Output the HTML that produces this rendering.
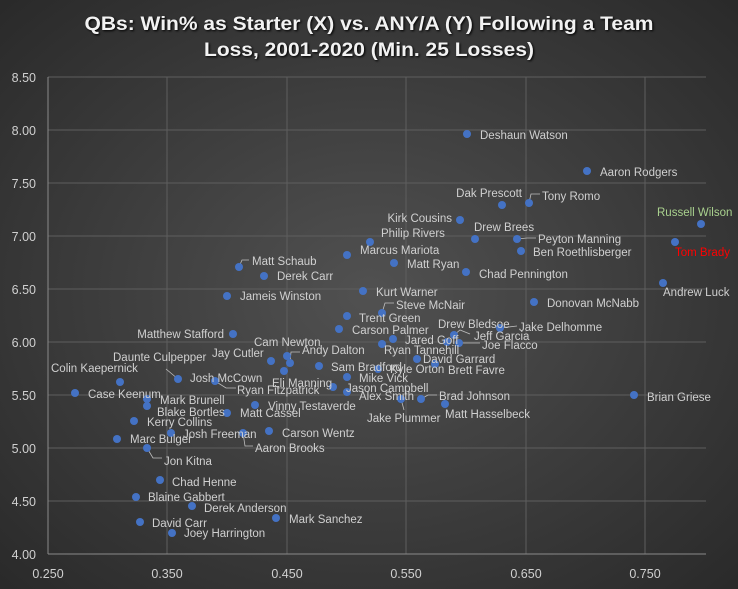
<!DOCTYPE html>
<html><head><meta charset="utf-8"><style>
html,body{margin:0;padding:0;background:#333;}
svg{display:block;}
text{font-family:"Liberation Sans",sans-serif;}
.l{font-size:11.5px;fill:#d0d0d0;}
.ax{font-size:12.5px;fill:#d0d0d0;}
.g{stroke:#5e5e5e;stroke-width:1;}
.ld{stroke:#bfbfbf;stroke-width:0.8;fill:none;}
circle{fill:#4472c4;}
</style></head><body>
<svg width="738" height="589" viewBox="0 0 738 589" xmlns="http://www.w3.org/2000/svg">
<defs>
<radialGradient id="bg" cx="50%" cy="50%" r="70%">
<stop offset="0" stop-color="#515151"/><stop offset="1" stop-color="#2a2a2a"/>
</radialGradient>
</defs>
<rect width="738" height="589" fill="url(#bg)"/>
<g font-weight="bold" font-size="19" fill="#f2f2f2" text-anchor="middle" style="text-shadow:1px 1px 2px #000">
<text x="369" y="30" textLength="569" lengthAdjust="spacingAndGlyphs">QBs: Win% as Starter (X) vs. ANY/A (Y) Following a Team</text>
<text x="369" y="56" textLength="330" lengthAdjust="spacingAndGlyphs">Loss, 2001-2020 (Min. 25 Losses)</text>
</g>
<!-- grid -->
<g class="g">
<line x1="48" y1="77" x2="706" y2="77"/><line x1="48" y1="130" x2="706" y2="130"/>
<line x1="48" y1="183" x2="706" y2="183"/><line x1="48" y1="236" x2="706" y2="236"/>
<line x1="48" y1="289" x2="706" y2="289"/><line x1="48" y1="342" x2="706" y2="342"/>
<line x1="48" y1="395" x2="706" y2="395"/><line x1="48" y1="448" x2="706" y2="448"/>
<line x1="48" y1="501" x2="706" y2="501"/>
<line x1="167" y1="77" x2="167" y2="554"/><line x1="287" y1="77" x2="287" y2="554"/>
<line x1="406" y1="77" x2="406" y2="554"/><line x1="526" y1="77" x2="526" y2="554"/>
<line x1="645" y1="77" x2="645" y2="554"/>
</g>
<line x1="48" y1="77" x2="48" y2="554" stroke="#8a8a8a"/>
<line x1="48" y1="554" x2="706" y2="554" stroke="#8a8a8a"/>
<g class="ax" text-anchor="end">
<text x="36" y="82">8.50</text><text x="36" y="135">8.00</text><text x="36" y="188">7.50</text>
<text x="36" y="241">7.00</text><text x="36" y="294">6.50</text><text x="36" y="347">6.00</text>
<text x="36" y="400">5.50</text><text x="36" y="453">5.00</text><text x="36" y="506">4.50</text>
<text x="36" y="559">4.00</text>
</g>
<g class="ax" text-anchor="middle">
<text x="48" y="578">0.250</text><text x="167" y="578">0.350</text><text x="287" y="578">0.450</text>
<text x="406" y="578">0.550</text><text x="526" y="578">0.650</text><text x="645" y="578">0.750</text>
</g>
<!-- leader lines -->
<g class="ld">
<polyline points="239,267 242,260 249,260"/>
<polyline points="178,379 166,369"/>
<polyline points="215,381 226,388 236,388"/>
<polyline points="290,363 291,352 300,352"/>
<polyline points="147,448 153,458 162,458"/>
<polyline points="243,433 245,446 253,446"/>
<polyline points="382,313 385,303 394,303"/>
<polyline points="529,203 531,194 540,194"/>
<polyline points="517,239 527,238 536,238"/>
<polyline points="454,335 460,330 470,334"/>
<polyline points="459,343 480,343"/>
<polyline points="500,328 517,326"/>
<polyline points="421,399 428,395 437,395"/>
<polyline points="401,399 404,410"/>
</g>
<!-- dots -->
<g>
<circle cx="467" cy="134" r="4"/><circle cx="587" cy="171" r="4"/><circle cx="502" cy="205" r="4"/>
<circle cx="529" cy="203" r="4"/><circle cx="460" cy="220" r="4"/><circle cx="701" cy="224" r="4"/>
<circle cx="370" cy="242" r="4"/><circle cx="347" cy="255" r="4"/><circle cx="475" cy="239" r="4"/>
<circle cx="517" cy="239" r="4"/><circle cx="521" cy="251" r="4"/><circle cx="675" cy="242" r="4"/>
<circle cx="394" cy="263" r="4"/><circle cx="466" cy="272" r="4"/><circle cx="363" cy="291" r="4"/>
<circle cx="663" cy="283" r="4"/><circle cx="534" cy="302" r="4"/><circle cx="634" cy="395" r="4"/>
<circle cx="239" cy="267" r="4"/><circle cx="264" cy="276" r="4"/><circle cx="227" cy="296" r="4"/>
<circle cx="233" cy="334" r="4"/><circle cx="287" cy="356" r="4"/><circle cx="290" cy="363" r="4"/>
<circle cx="271" cy="361" r="4"/><circle cx="284" cy="371" r="4"/><circle cx="178" cy="379" r="4"/>
<circle cx="215" cy="381" r="4"/><circle cx="120" cy="382" r="4"/><circle cx="75" cy="393" r="4"/>
<circle cx="319" cy="366" r="4"/><circle cx="147" cy="399" r="4"/><circle cx="147" cy="406" r="4"/>
<circle cx="255" cy="405" r="4"/><circle cx="227" cy="413" r="4"/><circle cx="134" cy="421" r="4"/>
<circle cx="171" cy="433" r="4"/><circle cx="243" cy="433" r="4"/><circle cx="117" cy="439" r="4"/>
<circle cx="147" cy="448" r="4"/><circle cx="160" cy="480" r="4"/><circle cx="136" cy="497" r="4"/>
<circle cx="192" cy="506" r="4"/><circle cx="140" cy="522" r="4"/><circle cx="172" cy="533" r="4"/>
<circle cx="269" cy="431" r="4"/><circle cx="276" cy="518" r="4"/><circle cx="445" cy="404" r="4"/>
<circle cx="382" cy="313" r="4"/><circle cx="347" cy="316" r="4"/><circle cx="339" cy="329" r="4"/>
<circle cx="393" cy="339" r="4"/><circle cx="382" cy="344" r="4"/><circle cx="417" cy="359" r="4"/>
<circle cx="378" cy="369" r="4"/><circle cx="435" cy="364" r="4"/><circle cx="347" cy="377" r="4"/>
<circle cx="333" cy="387" r="4"/><circle cx="347" cy="392" r="4"/><circle cx="401" cy="399" r="4"/>
<circle cx="421" cy="399" r="4"/><circle cx="454" cy="335" r="4"/><circle cx="447" cy="342" r="4"/>
<circle cx="459" cy="343" r="4"/><circle cx="500" cy="328" r="4"/>
</g>
<!-- labels -->
<g class="l">
<text x="480" y="139">Deshaun Watson</text>
<text x="600" y="176">Aaron Rodgers</text>
<text x="522" y="197" text-anchor="end">Dak Prescott</text>
<text x="542" y="200">Tony Romo</text>
<text x="452" y="222" text-anchor="end">Kirk Cousins</text>
<text x="657" y="216" style="fill:#a9d18e">Russell Wilson</text>
<text x="381" y="237">Philip Rivers</text>
<text x="360" y="254">Marcus Mariota</text>
<text x="474" y="231">Drew Brees</text>
<text x="538" y="243">Peyton Manning</text>
<text x="533" y="256">Ben Roethlisberger</text>
<text x="675" y="256" style="fill:#ff0000">Tom Brady</text>
<text x="407" y="268">Matt Ryan</text>
<text x="479" y="278">Chad Pennington</text>
<text x="376" y="296">Kurt Warner</text>
<text x="663" y="296">Andrew Luck</text>
<text x="547" y="307">Donovan McNabb</text>
<text x="647" y="401">Brian Griese</text>
<text x="252" y="265">Matt Schaub</text>
<text x="277" y="280">Derek Carr</text>
<text x="240" y="300">Jameis Winston</text>
<text x="224" y="338" text-anchor="end">Matthew Stafford</text>
<text x="254" y="346">Cam Newton</text>
<text x="302" y="354">Andy Dalton</text>
<text x="212" y="357">Jay Cutler</text>
<text x="272" y="387">Eli Manning</text>
<text x="113" y="361">Daunte Culpepper</text>
<text x="190" y="382">Josh McCown</text>
<text x="237" y="394">Ryan Fitzpatrick</text>
<text x="51" y="372">Colin Kaepernick</text>
<text x="88" y="398">Case Keenum</text>
<text x="331" y="371">Sam Bradford</text>
<text x="160" y="404">Mark Brunell</text>
<text x="157" y="416">Blake Bortles</text>
<text x="268" y="410">Vinny Testaverde</text>
<text x="240" y="417">Matt Cassel</text>
<text x="147" y="426">Kerry Collins</text>
<text x="183" y="438">Josh Freeman</text>
<text x="255" y="452">Aaron Brooks</text>
<text x="130" y="443">Marc Bulger</text>
<text x="164" y="465">Jon Kitna</text>
<text x="172" y="486">Chad Henne</text>
<text x="148" y="501">Blaine Gabbert</text>
<text x="204" y="512">Derek Anderson</text>
<text x="152" y="527">David Carr</text>
<text x="184" y="537">Joey Harrington</text>
<text x="282" y="437">Carson Wentz</text>
<text x="289" y="523">Mark Sanchez</text>
<text x="445" y="418">Matt Hasselbeck</text>
<text x="367" y="422">Jake Plummer</text>
<text x="396" y="309">Steve McNair</text>
<text x="359" y="322">Trent Green</text>
<text x="352" y="334">Carson Palmer</text>
<text x="405" y="344">Jared Goff</text>
<text x="384" y="354">Ryan Tannehill</text>
<text x="423" y="363">David Garrard</text>
<text x="390" y="373">Kyle Orton</text>
<text x="448" y="374">Brett Favre</text>
<text x="359" y="382">Mike Vick</text>
<text x="346" y="392">Jason Campbell</text>
<text x="359" y="400">Alex Smith</text>
<text x="439" y="400">Brad Johnson</text>
<text x="438" y="328">Drew Bledsoe</text>
<text x="474" y="340">Jeff Garcia</text>
<text x="482" y="349">Joe Flacco</text>
<text x="519" y="331">Jake Delhomme</text>
</g>
</svg>
</body></html>
